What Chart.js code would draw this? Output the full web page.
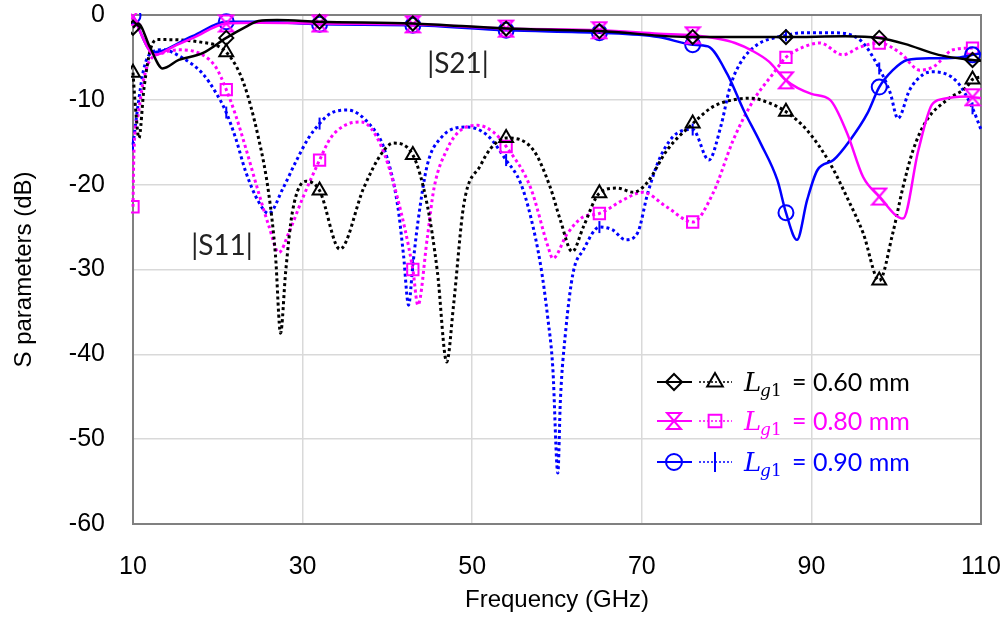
<!DOCTYPE html>
<html>
<head>
<meta charset="utf-8">
<script src="https://cdn.jsdelivr.net/npm/chart.js@4.4.1/dist/chart.umd.min.js"></script>
<style>
html,body{margin:0;padding:0;background:#fff;}
</style>
</head>
<body>
<canvas id="sparam" width="1008" height="617"></canvas>
<script>
// marker every 11 GHz, like the simulator export
var markFreq = [10, 21, 32, 43, 54, 65, 76, 87, 98, 109];

// |S21|, Lg1 = 0.60 mm
var s21_060_f  = [10, 10.6, 12, 13.5, 15.4, 18.2, 21, 23.3, 24.8, 27, 32, 43, 54, 65, 76, 87, 94, 98, 101, 105, 109, 110];
var s21_060_db = [-1.5, -1.0, -3.8, -6.3, -5.3, -4.5, -2.7, -1.4, -0.7, -0.6, -0.8, -1.0, -1.6, -1.9, -2.6, -2.6, -2.5, -2.7, -3.4, -4.7, -5.3, -5.4];

// |S21|, Lg1 = 0.80 mm
var s21_080_f  = [10, 12.6, 15, 17.1, 21, 25, 32, 43, 54, 65, 72, 76, 79, 81, 83, 85, 87, 90, 92.2, 94.2, 96.1, 98, 100.8, 102.6, 104.2, 105.5, 108.3, 109, 110];
var s21_080_db = [-0.2, -4.7, -3.6, -2.7, -1.0, -0.9, -1.0, -1.1, -1.6, -1.8, -2.2, -2.4, -2.8, -3.3, -4.2, -5.5, -7.7, -9.3, -10.0, -13.9, -19.1, -21.4, -24.0, -16.0, -10.6, -9.9, -9.6, -9.7, -9.8];

// |S21|, Lg1 = 0.90 mm
var s21_090_f  = [10, 12.4, 17, 21, 25, 32, 43, 54, 65, 72, 76, 77.8, 80.1, 82, 84, 86, 87, 88.3, 89.5, 90.7, 92.6, 94.6, 96.6, 98, 99.6, 101.3, 104.4, 107.5, 109, 110];
var s21_090_db = [-0.1, -4.4, -2.5, -0.8, -0.8, -1.1, -1.2, -1.8, -2.1, -2.6, -3.5, -3.7, -7.0, -11.2, -15.1, -19.5, -23.3, -26.5, -21.8, -18.3, -17.1, -14.7, -11.6, -8.5, -6.5, -5.3, -5.1, -5.0, -4.7, -4.5];

// |S11|, Lg1 = 0.60 mm
var s11_060_f  = [10, 10.3, 10.7, 11.3, 12.1, 13, 18, 21, 23, 24.8, 26, 26.8, 27.4, 28, 28.8, 30.4, 32, 34.4, 37.2, 39.2, 40.7, 43, 44.7, 45.9, 47, 47.8, 49, 51, 52.2, 54, 57.2, 59.2, 60.4, 61.8, 63.1, 65, 67.1, 69, 70.6, 73, 76, 78.4, 80.8, 82.8, 85.1, 87, 89.5, 92.2, 94.2, 96.1, 98, 99.6, 100.8, 102, 103.6, 106, 108.3, 109, 110];
var s11_060_db = [-6.8, -11, -14.5, -8.6, -3.9, -2.9, -3.2, -4.4, -7.9, -14.5, -21, -28.3, -37.5, -30.3, -23.2, -19.6, -20.7, -27.6, -20.4, -16.5, -15.1, -16.5, -22.4, -30.3, -40.9, -34.2, -22.4, -17.7, -15.7, -14.5, -15.9, -20.3, -24.2, -27.9, -25, -21, -20.4, -20.9, -19.8, -15.9, -12.8, -10.8, -10, -9.8, -10.4, -11.4, -13.6, -17.5, -21.5, -25.7, -31.3, -25.7, -20.3, -15.9, -12.4, -10, -8.5, -7.6, -7.3];

// |S11|, Lg1 = 0.80 mm
var s11_080_f  = [10, 10.1, 10.6, 11.2, 11.9, 13.5, 15.4, 18.2, 19.8, 21, 22.1, 23.3, 24.8, 26, 27.2, 28.4, 30, 32, 33.3, 35, 36.9, 39.2, 41.2, 43, 43.6, 44.7, 45.5, 47.1, 48.5, 50.6, 52.5, 54, 56.9, 59, 59.5, 61.2, 63.1, 65, 67.8, 70.1, 72.9, 76, 78.4, 80.8, 83.2, 85.5, 87, 89, 91, 93.7, 95.7, 98, 100.5, 102.8, 104.4, 106.7, 109, 110];
var s11_080_db = [-22.6, -16.5, -11.8, -7.9, -5.5, -4.5, -4.1, -4.7, -6.2, -8.8, -11.8, -15.7, -20.9, -24.8, -28, -25.6, -21.6, -17.1, -14.5, -13, -12.6, -15.3, -21.6, -30, -34.2, -26.3, -20.4, -15.7, -13.7, -13, -13.8, -15.5, -20.4, -27.5, -28.7, -25.8, -23.8, -23.4, -21.8, -20.9, -22.6, -24.4, -21, -14.7, -10, -6.9, -5.0, -3.8, -3.3, -4.7, -3.8, -3.3, -4.5, -6.5, -6.1, -4.1, -3.9, -3.9];

// |S11|, Lg1 = 0.90 mm
var s11_090_f  = [10, 10.6, 11.2, 11.9, 13.5, 15.9, 18.2, 19.8, 21, 22.1, 23.3, 24.8, 26, 27.7, 29.2, 30.7, 32, 33.3, 35.3, 38, 39.6, 41.2, 41.9, 42.5, 43, 43.6, 44.7, 46.3, 49.4, 51.8, 54, 55.7, 56.9, 58.1, 58.9, 59.5, 60.1, 60.4, 61, 61.9, 63.1, 65, 66.5, 68.1, 69.5, 70.7, 72.2, 74.2, 76, 77.9, 79.3, 80.4, 81.6, 83.6, 86, 87, 88.7, 92.6, 95.8, 98, 99.3, 100.2, 101.6, 103.2, 104.4, 107.2, 109, 110];
var s11_090_db = [-15.3, -10.6, -6.7, -4.7, -4.1, -5.1, -6.9, -9.2, -11.5, -14.5, -18.5, -22, -23.4, -20.4, -17.3, -14.5, -12.8, -11.6, -11.2, -13, -15.7, -22.4, -28.3, -34.2, -29.5, -24.4, -17.7, -14.5, -13.2, -14.2, -17.1, -19.8, -23.8, -29.7, -35.6, -41.5, -54, -45.4, -37.5, -30.4, -27.7, -25, -25.3, -26.5, -25.7, -21, -16.7, -13.9, -13.5, -17.1, -13.2, -8.5, -5.7, -3.5, -2.6, -2.4, -2.1, -2.1, -3.0, -6.3, -9.2, -12.2, -8.8, -7.0, -6.7, -7.9, -11, -13.5];

var xTicks = {min: 10, max: 110, step: 20};
var yTicks = {min: -60, max: 0, step: 10};
var legendText = ['= 0.60 mm', '= 0.80 mm', '= 0.90 mm'];

var BLACK = '#000000', PINK = '#ff00ff', BLUE = '#0000ff';
var tickFont = "'Liberation Sans', Arial, sans-serif";
var noteFont = "Lato, 'Open Sans', sans-serif";

function hourglass(col) {
  var c = document.createElement('canvas');
  c.width = 18; c.height = 20;
  var g = c.getContext('2d');
  g.strokeStyle = col; g.lineWidth = 2; g.lineJoin = 'miter';
  g.beginPath();
  g.moveTo(2, 2); g.lineTo(16, 2); g.lineTo(2, 18); g.lineTo(16, 18); g.closePath();
  g.stroke();
  return c;
}
var hgPink = hourglass(PINK);

function pts(f, db) {
  return f.map(function (v, i) { return {x: v, y: db[i]}; });
}

function series(f, db, col, dotted, style, r, rot) {
  return {
    data: pts(f, db),
    borderColor: col,
    borderWidth: dotted ? 3 : 2.5,
    borderDash: dotted ? [3, 3] : [],
    cubicInterpolationMode: 'monotone',
    fill: false,
    clip: 2,
    pointStyle: style,
    pointRotation: rot || 0,
    pointBorderColor: col,
    pointBackgroundColor: 'rgba(0,0,0,0)',
    pointBorderWidth: 2,
    pointHoverRadius: 0,
    pointRadius: function (ctx) {
      return ctx.raw && markFreq.indexOf(ctx.raw.x) >= 0 ? r : 0;
    }
  };
}

var datasets = [
  series(s21_060_f, s21_060_db, BLACK, false, 'rectRot', 7),
  series(s21_080_f, s21_080_db, PINK, false, hgPink, 8),
  series(s21_090_f, s21_090_db, BLUE, false, 'circle', 7.5),
  series(s11_060_f, s11_060_db, BLACK, true, 'triangle', 8),
  series(s11_080_f, s11_080_db, PINK, true, 'rect', 8),
  series(s11_090_f, s11_090_db, BLUE, true, 'line', 6, 90)
];

// grey frame round the plot area
var framePlugin = {
  id: 'frame',
  beforeDatasetsDraw: function (chart) {
    var a = chart.chartArea, c = chart.ctx;
    c.save();
    c.strokeStyle = '#808080';
    c.lineWidth = 2;
    c.strokeRect(a.left, a.top, a.right - a.left, a.bottom - a.top);
    c.restore();
  }
};

// |S21| / |S11| notes and the legend at lower right
var notesPlugin = {
  id: 'notes',
  afterDraw: function (chart) {
    var c = chart.ctx;
    c.save();
    c.fillStyle = '#222';
    c.font = '28px ' + noteFont;
    c.textAlign = 'center';
    c.textBaseline = 'middle';
    c.fillText('|S21|', 458, 64);
    c.fillText('|S11|', 222, 246);

    var rows = [
      {col: BLACK, a: datasets[0], b: datasets[3], y: 382},
      {col: PINK, a: datasets[1], b: datasets[4], y: 421},
      {col: BLUE, a: datasets[2], b: datasets[5], y: 462}
    ];
    rows.forEach(function (row, i) {
      var y = row.y;
      c.strokeStyle = row.col;
      c.fillStyle = 'rgba(0,0,0,0)';
      // solid line + marker
      c.setLineDash([]);
      c.lineWidth = 2;
      c.beginPath(); c.moveTo(657, y); c.lineTo(692, y); c.stroke();
      Chart.helpers.drawPoint(c, {
        pointStyle: row.a.pointStyle, rotation: 0, radius: 8, borderWidth: 2
      }, 674, y);
      // dotted line + marker
      c.lineWidth = 1.5;
      c.setLineDash([2, 2]);
      c.beginPath(); c.moveTo(699, y); c.lineTo(732, y); c.stroke();
      c.setLineDash([]);
      c.lineWidth = 2;
      Chart.helpers.drawPoint(c, {
        pointStyle: row.b.pointStyle, rotation: row.b.pointRotation,
        radius: i === 2 ? 10 : 9, borderWidth: 2
      }, 715, y);

      // L_g1 = value
      c.fillStyle = row.col;
      c.textAlign = 'left';
      c.textBaseline = 'alphabetic';
      c.font = "italic 26px 'DejaVu Serif', 'Liberation Serif', serif";
      c.fillText('L', 744, y + 9);
      c.font = "italic 17px 'DejaVu Serif', 'Liberation Serif', serif";
      c.fillText('g', 760, y + 14);
      c.font = "17px 'DejaVu Serif', 'Liberation Serif', serif";
      c.fillText('1', 771, y + 14);
      c.font = '25px ' + noteFont;
      c.fillText(legendText[i], 792, y + 9);
    });
    c.restore();
  }
};

function noPad(s) {
  s.paddingTop = 0; s.paddingBottom = 0; s.paddingLeft = 0; s.paddingRight = 0;
}

new Chart(document.getElementById('sparam'), {
  type: 'line',
  data: {datasets: datasets},
  plugins: [framePlugin, notesPlugin],
  options: {
    responsive: false,
    animation: false,
    events: [],
    layout: {padding: {top: 15, right: 27, left: 0, bottom: 0}},
    plugins: {legend: {display: false}, tooltip: {enabled: false}},
    scales: {
      x: {
        type: 'linear',
        min: xTicks.min, max: xTicks.max,
        ticks: {stepSize: xTicks.step, color: '#000', padding: 28, maxRotation: 0,
          font: {family: tickFont, size: 25}},
        grid: {color: '#d9d9d9', lineWidth: 1.5, drawTicks: false},
        border: {display: false},
        title: {display: true, text: 'Frequency (GHz)', color: '#000',
          font: {family: tickFont, size: 24}, padding: {top: 0, bottom: 2}},
        afterFit: function (s) { s.height = 93; noPad(s); }
      },
      y: {
        min: yTicks.min, max: yTicks.max,
        ticks: {stepSize: yTicks.step, color: '#000', padding: 28,
          font: {family: tickFont, size: 25}},
        grid: {color: '#d9d9d9', lineWidth: 1.5, drawTicks: false},
        border: {display: false},
        title: {display: true, text: 'S parameters (dB)', color: '#000',
          font: {family: tickFont, size: 24}, padding: {top: 10, bottom: 0}},
        afterFit: function (s) { s.width = 133; noPad(s); }
      }
    }
  }
});
</script>
</body>
</html>
